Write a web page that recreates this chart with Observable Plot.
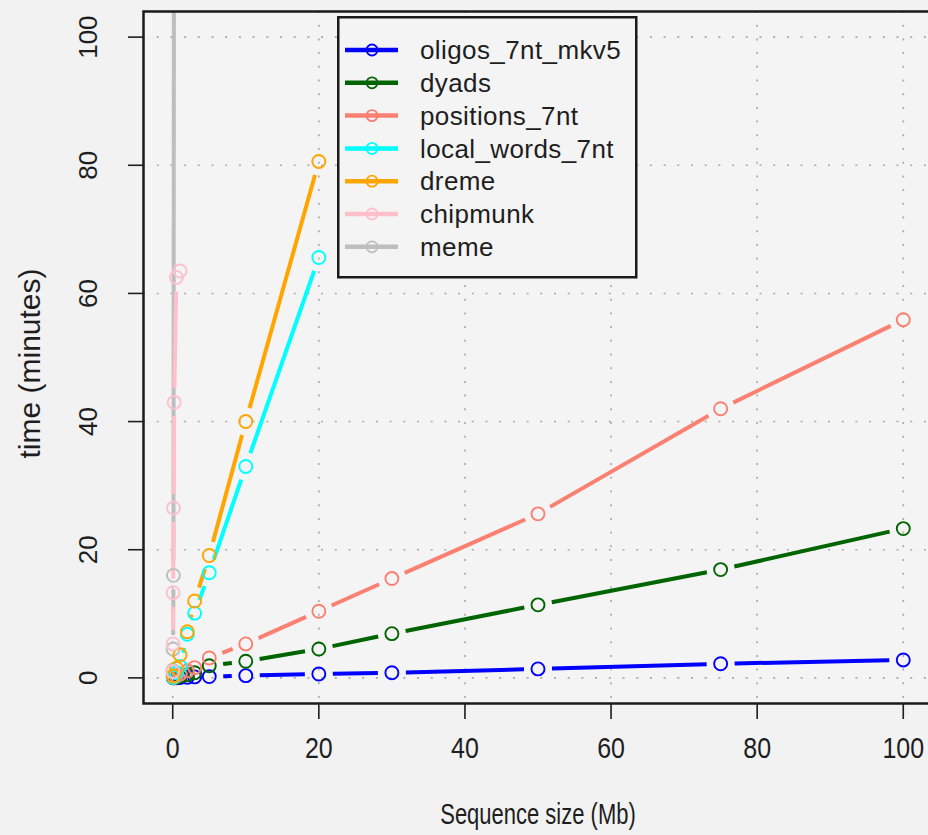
<!DOCTYPE html>
<html><head><meta charset="utf-8">
<script src="https://cdn.jsdelivr.net/npm/d3@7"></script>
<script src="https://cdn.jsdelivr.net/npm/@observablehq/plot@0.6"></script>
<style>
html,body{margin:0;padding:0;background:#f2f2f2;}
#wrap{position:relative;width:928px;height:835px;overflow:hidden;}
</style></head><body><div id="wrap"></div>
<script>
// ---- data ----
const seriesNames = ["oligos_7nt_mkv5","dyads","positions_7nt","local_words_7nt","dreme","chipmunk","meme"];
const seriesColors = ["#0000ff","#006400","#fa8072","#00ffff","#ffa500","#ffc0cb","#bebebe"];
const drawOrder = ["meme","oligos_7nt_mkv5","dyads","positions_7nt","local_words_7nt","dreme","chipmunk"];
const xTicks = [0,20,40,60,80,100];
const yTicks = [0,20,40,60,80,100];
const xTitle = "Sequence size (Mb)";
const yTitle = "time (minutes)";

const sizesMain = [0.1, 0.5, 1, 2, 3, 5, 10, 20, 30, 50, 75, 100];
const oligosTime = [0.01, 0.03, 0.05, 0.1, 0.15, 0.2, 0.35, 0.6, 0.8, 1.4, 2.2, 2.8];
const dyadsTime = [0.02, 0.1, 0.25, 0.5, 0.8, 1.9, 2.6, 4.5, 6.9, 11.4, 16.9, 23.3];
const positionsTime = [0.05, 0.3, 0.55, 1.1, 1.6, 3.1, 5.3, 10.4, 15.5, 25.6, 42.0, 55.9];
const sizesShort = [0.1, 0.5, 1, 2, 3, 5, 10, 20];
const localWordsTime = [0.1, 0.8, 1.8, 6.8, 10.1, 16.4, 33.0, 65.6];
const dremeTime = [0.3, 1.5, 3.6, 7.2, 12.0, 19.1, 40.0, 80.6];
const sizesChipmunk = [0.01, 0.03, 0.05, 0.1, 0.2, 0.5, 1];
const chipmunkTime = [1.0, 5.3, 13.3, 26.5, 43.0, 62.5, 63.5];
const sizesMeme = [0.01, 0.02, 0.05, 0.1, 0.2];
const memeTime = [0.3, 1.2, 4.5, 16, 160];

const seriesX = [sizesMain, sizesMain, sizesMain, sizesShort, sizesShort, sizesChipmunk, sizesMeme];
const seriesY = [oligosTime, dyadsTime, positionsTime, localWordsTime, dremeTime, chipmunkTime, memeTime];

// ---- build tables ----
const W = 928, H = 835, mL = 143, mR = -4, mT = 11, mB = 132;
const xDomain = [-4, 104], yDomain = [-4, 104];
const xs = Plot.scale({x: {domain: xDomain, range: [mL, W - mR]}});
const ys = Plot.scale({y: {domain: yDomain, range: [H - mB, mT]}});
const GAP = 14;
const points = [], segments = [];
drawOrder.forEach(name => {
  const k = seriesNames.indexOf(name);
  const X = seriesX[k], Y = seriesY[k];
  X.forEach((x, i) => points.push({series: name, x, y: Y[i]}));
  for (let i = 1; i < X.length; i++) {
    const px0 = xs.apply(X[i-1]), py0 = ys.apply(Y[i-1]);
    const px1 = xs.apply(X[i]), py1 = ys.apply(Y[i]);
    const dx = px1 - px0, dy = py1 - py0, d = Math.hypot(dx, dy);
    if (d <= 2 * GAP) continue;
    const f = GAP / d;
    segments.push({series: name,
      x1: xs.invert(px0 + dx * f), y1: ys.invert(py0 + dy * f),
      x2: xs.invert(px1 - dx * f), y2: ys.invert(py1 - dy * f)});
  }
});

const font = "'Liberation Sans', Arial, Helvetica, sans-serif";
const chart = Plot.plot({
  width: W, height: H,
  marginLeft: mL, marginRight: mR, marginTop: mT, marginBottom: mB,
  x: {domain: xDomain, range: [mL, W - mR], label: null},
  y: {domain: yDomain, label: null},
  color: {domain: seriesNames, range: seriesColors},
  style: {background: "transparent", fontFamily: font, color: "#1e1e1e", overflow: "visible"},
  marks: [
    Plot.frame({fill: "#f4f4f4"}),
    Plot.ruleX(xTicks, {x: d => d, stroke: "#a8a8a8", strokeWidth: 1.6, strokeDasharray: "2,11.7"}),
    Plot.ruleY(yTicks, {y: d => d, stroke: "#a8a8a8", strokeWidth: 1.6, strokeDasharray: "2,11.7"}),
    Plot.link(segments, {x1: "x1", y1: "y1", x2: "x2", y2: "y2", stroke: "series", strokeWidth: 4, clip: true}),
    Plot.dot(points, {x: "x", y: "y", r: 6.5, stroke: "series", strokeWidth: 1.9, fill: "none", clip: true}),
    Plot.frame({stroke: "#1a1a1a", strokeWidth: 2.5}),
    Plot.axisX({ticks: xTicks, tickSize: 16, tickPadding: 17, fontSize: 25, strokeWidth: 1.6}),
    Plot.axisY({ticks: yTicks, tickSize: 15, tickFormat: () => "", strokeWidth: 1.6}),
    Plot.text(yTicks, {y: d => d, text: d => String(d), frameAnchor: "left", textAnchor: "middle", lineAnchor: "middle", dx: -55, rotate: -90, fontSize: 26}),
    Plot.text([xTitle], {text: d => d, frameAnchor: "bottom", textAnchor: "middle", lineAnchor: "middle", dy: 111, fontSize: 22, letterSpacing: "0.3px"}),
    Plot.text([yTitle], {text: d => d, frameAnchor: "left", textAnchor: "middle", lineAnchor: "middle", dx: -113, dy: 6, rotate: -90, fontSize: 30, letterSpacing: "0.4px"})
  ]
});
const wrap = document.getElementById("wrap");
wrap.appendChild(chart);

// stretch horizontal texts vertically, as in the reference rendering
function stretch(el, sy) {
  let t = el.getAttribute("transform");
  if (!t) {
    const x = +(el.getAttribute("x") || 0), y = +(el.getAttribute("y") || 0);
    el.removeAttribute("x"); el.removeAttribute("y");
    t = `translate(${x},${y})`;
  }
  el.setAttribute("transform", t + ` scale(1,${sy})`);
}
const xTickStr = xTicks.map(String);
chart.querySelectorAll("text").forEach(el => {
  const s = el.textContent;
  const t = el.getAttribute("transform") || "";
  if (s === xTitle) stretch(el, 1.3);
  else if (xTickStr.includes(s) && !t.includes("rotate")) stretch(el, 1.2);
});

// ---- legend ----
const leg = d3.select(wrap).append("svg")
  .attr("width", 301).attr("height", 263)
  .style("position", "absolute").style("left", "337px").style("top", "16px")
  .style("font-family", font);
leg.append("rect").attr("x", 1.25).attr("y", 1.25).attr("width", 298).attr("height", 260)
  .attr("fill", "#f4f4f4").attr("stroke", "#1a1a1a").attr("stroke-width", 2.5);
seriesNames.forEach((name, i) => {
  const cy = 34 + i * 32.8;
  const g = leg.append("g");
  g.append("line").attr("x1", 8).attr("x2", 61).attr("y1", cy).attr("y2", cy)
    .attr("stroke", seriesColors[i]).attr("stroke-width", 4.5);
  g.append("circle").attr("cx", 35).attr("cy", cy).attr("r", 5.5)
    .attr("fill", "none").attr("stroke", seriesColors[i]).attr("stroke-width", 1.8);
  g.append("text").attr("x", 83).attr("y", cy).attr("dy", "0.35em")
    .attr("font-size", 26).attr("fill", "#1e1e1e").attr("letter-spacing", "0.4px").text(name);
});
</script></body></html>
